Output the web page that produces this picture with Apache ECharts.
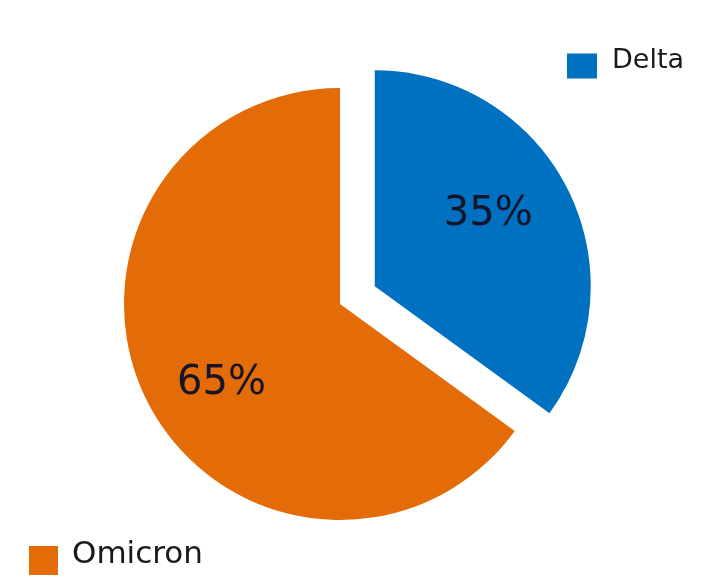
<!DOCTYPE html>
<html>
<head>
<meta charset="utf-8">
<script src="https://cdn.jsdelivr.net/npm/echarts@6/dist/echarts.min.js"></script>
<style>html,body{margin:0;padding:0;background:#fff;}#c{width:712px;height:587px;}</style>
</head>
<body>
<div id="c"></div>
<script>
const categories = ['Delta', 'Omicron'];
const values = [35, 65];
const colors = ['#0070C0', '#E36C09'];
const labelNudges = [[-13, -7], [8, 15]];

const chart = echarts.init(document.getElementById('c'), null, {renderer: 'canvas'});
const mainData = categories.map((n, i) => ({name: n, value: values[i], selected: i === 0, itemStyle: {color: colors[i]}}));
const ghostData = categories.map((n, i) => ({
  name: n, value: values[i], selected: i === 0,
  label: {offset: labelNudges[i]},
  select: {label: {offset: labelNudges[i]}}
}));

chart.setOption({
  animation: false,
  backgroundColor: '#ffffff',
  legend: [
    {
      data: [{name: 'Delta', itemStyle: {color: colors[0], opacity: 1}}],
      icon: 'rect', padding: 0,
      left: 567, top: 47, itemWidth: 30, itemHeight: 25, selectedMode: false,
      formatter: '{t|{name}}',
      textStyle: {
        fontFamily: 'DejaVu Sans', fontSize: 27, color: '#1a1a1a', padding: [0, 0, 0, 10],
        rich: {t: {fontFamily: 'DejaVu Sans', fontSize: 27, color: '#1a1a1a', padding: [0, 0, 11, 0]}}
      }
    },
    {
      data: [{name: 'Omicron', itemStyle: {color: colors[1], opacity: 1}}],
      icon: 'rect', padding: 0,
      left: 29, top: 539, itemWidth: 29, itemHeight: 29, selectedMode: false,
      formatter: '{t|{name}}',
      textStyle: {
        fontFamily: 'DejaVu Sans', fontSize: 31, color: '#1a1a1a', padding: [0, 0, 0, 9],
        rich: {t: {fontFamily: 'DejaVu Sans', fontSize: 31, color: '#1a1a1a', padding: [0, 0, 12, 0]}}
      }
    }
  ],
  series: [
    {
      type: 'pie',
      center: [340, 304],
      radius: [0, 216],
      startAngle: 90,
      clockwise: true,
      selectedMode: 'single',
      selectedOffset: 39,
      silent: true,
      label: {show: false},
      labelLine: {show: false},
      emphasis: {scale: false},
      data: mainData
    },
    {
      type: 'pie',
      center: [340, 304],
      radius: [0, 278],
      startAngle: 90,
      clockwise: true,
      selectedMode: 'single',
      selectedOffset: 39,
      silent: true,
      itemStyle: {color: 'rgba(0,0,0,0)'},
      label: {
        show: true, position: 'inside',
        formatter: '{c}%',
        fontFamily: 'DejaVu Sans', fontSize: 40, color: '#15152a'
      },
      labelLine: {show: false},
      emphasis: {scale: false},
      data: ghostData
    }
  ]
});
</script>
</body>
</html>
